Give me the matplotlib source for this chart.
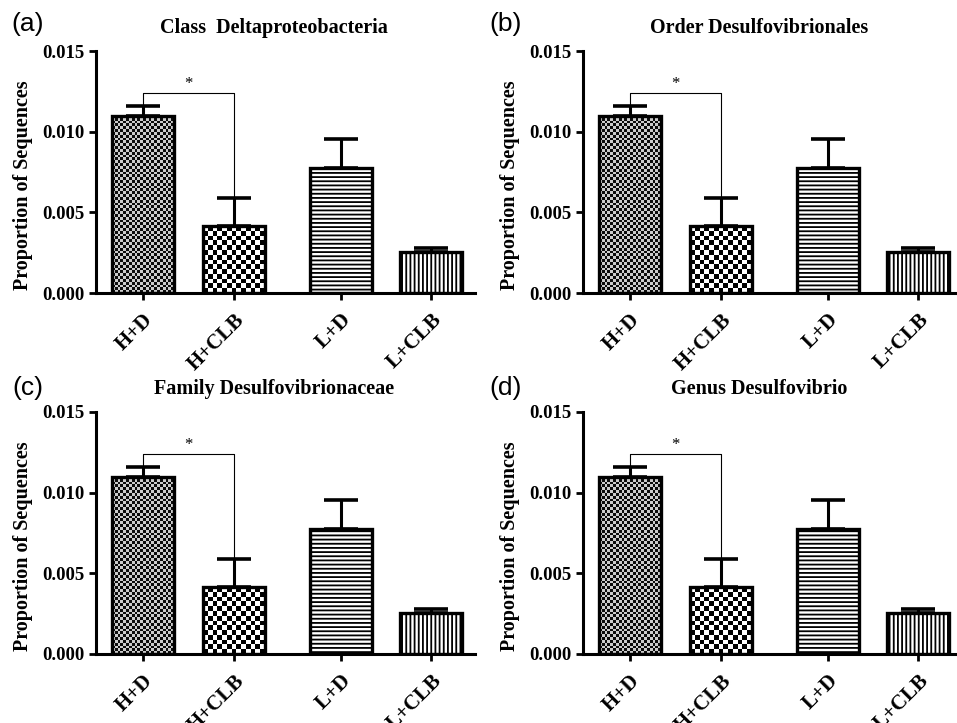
import numpy as np
import matplotlib
matplotlib.use('Agg')
import matplotlib.pyplot as plt

plt.rcParams['hatch.linewidth'] = 1.3
plt.rcParams['hatch.color'] = 'black'

groups = ['H+D', 'H+CLB', 'L+D', 'L+CLB']
means = [0.0110, 0.00415, 0.00775, 0.00255]
sems = [0.0006, 0.00175, 0.0018, 0.00025]
titles = ['Class  Deltaproteobacteria', 'Order Desulfovibrionales',
          'Family Desulfovibrionaceae', 'Genus Desulfovibrio']
panel_labels = ['(a)', '(b)', '(c)', '(d)']

SERIF = 'Liberation Serif'
W, H = 957, 723
# axes boxes in pixels: left, top, right, bottom
boxes = [(96, 51, 475, 293), (583, 51, 957, 293),
         (96, 412, 475, 654), (583, 412, 957, 654)]
label_pos = [(28, 24), (506, 24), (28, 388), (506, 388)]

xpos = np.array([0, 1, 2.18, 3.17])
bw = 0.68
unit_px = 91.0
ymax = 0.015

fig = plt.figure(figsize=(W / 100, H / 100), dpi=100)


def draw_panel(box, title, plabel, lpos):
    left, top, right, bottom = box
    wpx, hpx = right - left, bottom - top
    ax = fig.add_axes([left / W, 1 - bottom / H, wpx / W, hpx / H])
    xmin = -0.516
    xmax = xmin + wpx / unit_px

    # checkerboard fills for the two H groups (fine and coarse)
    for i, cell, lo, hi in [(0, 2.8, 0.05, 0.8), (1, 4.7, 0.0, 1.0)]:
        nx = max(1, int(round(bw * unit_px / cell)))
        ny = max(1, int(round(means[i] / ymax * hpx / cell)))
        arr = np.add.outer(np.arange(ny), np.arange(nx)) % 2
        ax.imshow(np.where(arr == 1, hi, lo), cmap='gray', vmin=0, vmax=1,
                  origin='lower',
                  extent=(xpos[i] - bw / 2, xpos[i] + bw / 2, 0, means[i]),
                  aspect='auto', interpolation='nearest', zorder=2)

    bars = ax.bar(xpos, means, width=bw, facecolor='none', edgecolor='black',
                  linewidth=2.4, zorder=3)
    bars[2].set_hatch('----')
    bars[3].set_hatch('||||')

    ax.errorbar(xpos, means, yerr=[np.zeros(4), sems], fmt='none',
                ecolor='black', elinewidth=2.2, capsize=12, capthick=2.6,
                zorder=4)

    # significance bracket
    ytop = 0.0124
    ax.plot([xpos[0], xpos[0], xpos[1], xpos[1]],
            [means[0] + sems[0], ytop, ytop, means[1] + sems[1]],
            color='black', lw=0.8, zorder=4)
    ax.text((xpos[0] + xpos[1]) / 2, ytop + 0.00005, '*', ha='center',
            va='bottom', fontsize=12, family=SERIF)

    ax.set_xlim(xmin, xmax)
    ax.set_ylim(0, ymax)
    for s in ['top', 'right']:
        ax.spines[s].set_visible(False)
    for s in ['left', 'bottom']:
        ax.spines[s].set_linewidth(2.2)

    yt = [0, 0.005, 0.010, 0.015]
    ax.set_yticks(yt)
    ax.set_yticklabels(['%.3f' % v for v in yt], family=SERIF,
                       fontweight='bold', fontsize=13.5)
    ax.set_xticks(xpos)
    ax.set_xticklabels(groups, rotation=45, ha='right', va='top',
                       rotation_mode='anchor', family=SERIF,
                       fontweight='bold', fontsize=15)
    ax.tick_params(direction='out', length=5, width=2)
    ax.tick_params(axis='x', pad=7)

    ax.text(0.47, 1 + 23 / hpx, title, transform=ax.transAxes, ha='center',
            va='center', family=SERIF, fontweight='bold', fontsize=14.5)
    ax.text(-73 / wpx, 0.446, 'Proportion of Sequences', rotation=90,
            transform=ax.transAxes, ha='center', va='center', family=SERIF,
            fontweight='bold', fontsize=14.5)
    fig.text(lpos[0] / W, 1 - lpos[1] / H, plabel, ha='center', va='center',
             family='Liberation Sans', fontsize=19)


for b, t, p, lp in zip(boxes, titles, panel_labels, label_pos):
    draw_panel(b, t, p, lp)

fig.savefig('out.png', dpi=100)
